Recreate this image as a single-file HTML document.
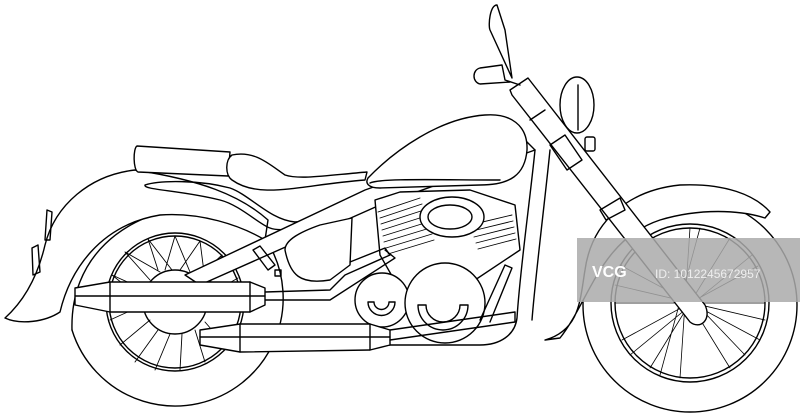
<!DOCTYPE html>
<html><head><meta charset="utf-8"><style>html,body{margin:0;padding:0;background:#fff}svg{display:block}</style></head>
<body>
<svg width="800" height="413" viewBox="0 0 800 413" xmlns="http://www.w3.org/2000/svg" fill="none" stroke="#000" stroke-width="1.4" stroke-linejoin="round" stroke-linecap="round">
<!-- rear tire -->
<path d="M72 330 A108 108 0 1 0 230 205" fill="#fff"/>
<path d="M72 330 C70 260 120 212 200 205" />
<circle cx="175" cy="302" r="69"/>
<circle cx="175" cy="302" r="66"/>
<circle cx="175" cy="302" r="32"/>
<g stroke-width="0.9">
<path d="M175 236 L165 270 M175 236 L190 272 M200 241 L180 270 M200 241 L205 280 M222 255 L195 280 M222 255 L207 290 M238 278 L207 296 M112 275 L145 290 M112 275 L143 300 M125 252 L150 280 M125 252 L160 272 M148 239 L158 270 M148 239 L172 270 M110 320 L143 305 M120 345 L150 320 M135 362 L158 330 M155 370 L170 334 M180 370 L182 334 M205 362 L195 330 M225 345 L205 322"/>
</g>
<!-- rear fender -->
<path d="M135 170 C90 175 55 205 45 245 C38 275 25 300 5 318 C20 325 45 322 60 312 C70 270 100 225 160 215 C200 212 240 225 265 240 L268 220 C240 195 200 180 135 170 Z" fill="#fff"/>
<path d="M47 210 L45 240 L50 240 L52 212 Z M38 245 L32 248 L33 275 L40 272 Z"/>
<!-- seat -->
<path d="M137 146 C133 148 133 170 138 172 L228 176 L230 152 Z" fill="#fff"/>
<path d="M232 155 C225 160 225 175 232 180 C260 200 300 185 365 180 L367 172 C330 175 300 180 285 175 C270 165 255 150 232 155 Z" fill="#fff"/>
<path d="M145 185 C143 190 180 190 220 200 C240 205 260 225 270 228 C280 232 300 228 315 225 L318 220 L295 222 C270 220 250 195 230 188 C200 180 160 180 145 185 Z"/>
<!-- frame -->
<path d="M185 275 L365 190 L520 135 L535 150 L380 205 L200 285 Z" fill="#fff"/>
<path d="M253 250 L268 270 L275 265 L260 246 Z M275 270 h6 v6 h-6 z"/>
<path d="M285 250 C290 275 300 285 330 280 L350 265 L352 218 L320 225 C300 232 285 240 285 250 Z" fill="#fff"/>
<path d="M535 150 C530 200 520 270 517 318 C515 335 500 345 480 345 L380 345" />
<path d="M550 150 C545 200 535 280 532 320"/>
<!-- engine -->
<path d="M375 200 L380 255 L400 290 L460 290 L520 250 L515 205 L470 190 L400 192 Z" fill="#fff"/>
<g stroke-width="0.9">
<path d="M378 212 L420 198 M380 218 L422 204 M381 224 L424 210 M382 230 L426 216 M383 236 L428 222 M384 242 L430 228 M386 248 L432 234 M388 254 L434 240"/>
<path d="M470 225 L512 215 M472 231 L513 221 M474 237 L514 227 M476 243 L515 233 M478 249 L516 239"/>
</g>
<ellipse cx="452" cy="217" rx="32" ry="20" fill="#fff"/>
<ellipse cx="450" cy="217" rx="22" ry="12"/>
<circle cx="382" cy="300" r="27" fill="#fff"/>
<path d="M368 302 A13 13 0 0 0 395 302 L389 302 A7 7 0 0 1 374 302 Z"/>
<circle cx="445" cy="303" r="40" fill="#fff"/>
<path d="M418 305 A25 25 0 0 0 468 305 L460 305 A17 17 0 0 1 426 305 Z"/>
<!-- tank -->
<path d="M368 178 C395 150 440 118 485 115 C510 113 528 125 527 150 C525 175 510 185 480 185 L380 188 C368 188 365 183 368 178 Z" fill="#fff"/>
<path d="M370 183 C380 178 440 180 500 180"/>
<!-- exhaust pipes -->
<path d="M350 262 L385 248 L390 255 L345 275 L330 290 L265 292" />
<path d="M265 300 L330 300 L395 258 L385 250"/>
<path d="M480 320 L505 265 L512 268 L490 322" />
<path d="M75 288 L110 282 L250 282 L265 288 L265 305 L250 312 L110 312 L75 305 Z" fill="#fff"/>
<path d="M75 296 H265 M110 282 V312 M250 282 V312"/>
<path d="M200 330 L240 324 L370 324 L390 330 L390 345 L370 350 L240 352 L200 345 Z" fill="#fff"/>
<path d="M200 337 H390 M240 324 V352 M370 324 V350"/>
<path d="M390 330 L515 312 L515 322 L390 340"/>
<!-- front tire -->
<circle cx="690" cy="305" r="107" fill="#fff"/>
<circle cx="690" cy="303" r="79"/>
<circle cx="690" cy="303" r="75"/>
<g stroke-width="0.8">
<path d="M690 228 L680 378 M650 238 L730 368 M620 265 L760 340 M615 303 L765 303 M622 340 L758 266 M650 368 L730 238 M700 228 L660 375 M640 245 L745 355 M615 285 L765 320 M630 355 L752 255"/>
</g>
<!-- front fender -->
<path d="M545 340 C580 330 580 300 585 270 C592 220 630 190 680 185 C725 183 755 195 770 212 L765 218 C740 210 700 208 660 220 C600 240 590 300 560 338 Z" fill="#fff"/>
<!-- fork -->
<path d="M510 90 L528 78 L705 305 C712 320 700 330 690 322 L512 95 Z" fill="#fff"/>
<path d="M530 120 L545 110 M550 145 L565 135 L582 160 L567 170 Z"/>
<path d="M600 210 L620 198 L625 210 L606 220 Z"/>
<path d="M520 85 L505 80 L502 65 L480 68 C472 70 472 82 480 84 L510 82"/>
<path d="M512 78 L505 30 L497 5 C490 5 488 25 490 30 Z"/>
<ellipse cx="577" cy="105" rx="17" ry="28" fill="#fff"/>
<path d="M578 85 V130"/>
<rect x="585" y="137" width="10" height="14" rx="2"/>
<!-- watermark -->
<rect x="577" y="238" width="223" height="64" fill="#aaa" fill-opacity="0.85" stroke="none"/>
<text x="592" y="277" font-family="Liberation Sans, sans-serif" font-size="16" font-weight="bold" fill="#fff" stroke="none">VCG</text>
<text x="655" y="278" font-family="Liberation Sans, sans-serif" font-size="12" fill="#eee" stroke="none">ID: 1012245672957</text>
</svg>
</body></html>
